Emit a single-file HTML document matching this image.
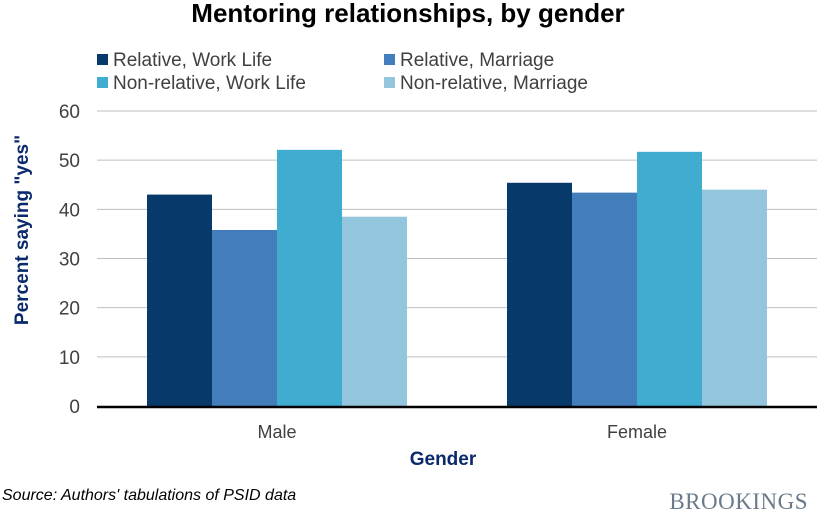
<!DOCTYPE html>
<html><head><meta charset="utf-8"><style>
body{margin:0;background:#fff;}
svg{display:block;font-family:"Liberation Sans",sans-serif;}
</style></head><body>
<svg id="chart" width="817" height="511" viewBox="0 0 817 511">
<text x="408" y="22" text-anchor="middle" font-size="26" font-weight="bold" fill="#000">Mentoring relationships, by gender</text>
<g id="legend"></g>
<g id="grid"></g>
<g id="bars"></g>
<g id="axes"></g>
<text transform="translate(28,230) rotate(-90)" text-anchor="middle" font-size="19" font-weight="bold" fill="#0a2a6b">Percent saying "yes"</text>
<text x="443" y="465" text-anchor="middle" font-size="19" font-weight="bold" fill="#0a2a6b">Gender</text>
<text x="2" y="500" font-size="16" font-style="italic" fill="#000">Source: Authors' tabulations of PSID data</text>
<text x="808" y="509" text-anchor="end" font-size="23" font-family="Liberation Serif,serif" fill="#6b7a8a" letter-spacing="0.5">BROOKINGS</text>
</svg>
<script>
const categories=["Male","Female"];
const seriesNames=["Relative, Work Life","Relative, Marriage","Non-relative, Work Life","Non-relative, Marriage"];
const relWork=[43.0,45.4];
const relMarriage=[35.8,43.4];
const nonrelWork=[52.1,51.7];
const nonrelMarriage=[38.5,44.0];
const yTicks=[0,10,20,30,40,50,60];
const colors=["#08396b","#427ebb","#3facd0","#93c5dc"];
const series=[relWork,relMarriage,nonrelWork,nonrelMarriage];
const NS="http://www.w3.org/2000/svg";
const x0=97,x1=817,yTop=111,yBot=406,yMax=60;
const y=v=>yBot-(v/yMax)*(yBot-yTop);
const bandW=(x1-x0)/categories.length;
const barW=65;
function mk(tag,attrs,parent){const e=document.createElementNS(NS,tag);for(const k in attrs)e.setAttribute(k,attrs[k]);parent.appendChild(e);return e;}
const grid=document.getElementById('grid'),bars=document.getElementById('bars'),axes=document.getElementById('axes'),legend=document.getElementById('legend');
yTicks.forEach(t=>{
  if(t>0){const l=mk('line',{x1:x0,x2:x1,y1:y(t),y2:y(t),stroke:'#bfbfbf','stroke-width':1},grid);
  
  }
  const tx=mk('text',{x:80,y:y(t)+7,'text-anchor':'end','font-size':19,fill:'#404040'},axes);
  tx.textContent=t;
  
  
});
categories.forEach((c,i)=>{
  const cx=x0+bandW*(i+0.5);
  const start=cx-barW*series.length/2;
  series.forEach((s,j)=>{
    const r=mk('rect',{x:start+j*barW,y:y(s[i]),width:barW,height:yBot-y(s[i]),fill:colors[j]},bars);
    
    
  });
  const t=mk('text',{x:cx,y:438,'text-anchor':'middle','font-size':18,fill:'#404040'},axes);
  t.textContent=c;
  
  
});
const ax=mk('line',{x1:x0,x2:x1,y1:yBot+1,y2:yBot+1,stroke:'#000','stroke-width':2.5},axes);


seriesNames.forEach((n,j)=>{
  const lx=j%2===0?97:384, ly=j<2?66:89;
  const g=mk('g',{},legend);
  
  
  mk('rect',{x:lx,y:ly-12,width:11,height:11,fill:colors[j]},g);
  const t=mk('text',{x:lx+16,y:ly,'font-size':19,fill:'#404040'},g);
  t.textContent=n;
});
</script>
</body></html>
